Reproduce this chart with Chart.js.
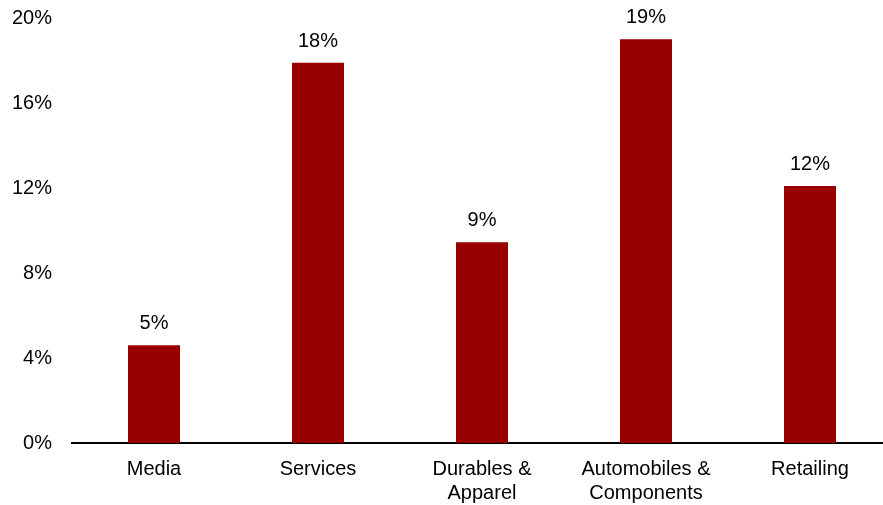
<!DOCTYPE html>
<html>
<head>
<meta charset="utf-8">
<script src="https://cdn.jsdelivr.net/npm/chart.js@4/dist/chart.umd.min.js"></script>
<style>
  html, body { margin: 0; padding: 0; background: #fff; overflow: hidden; }
  #wrap { width: 883px; height: 505px; overflow: hidden; position: relative; }
  #box { width: 892px; height: 505px; position: absolute; left: 0; top: 0; }
</style>
</head>
<body>
<div id="wrap"><div id="box"><canvas id="c"></canvas></div></div>
<script>
const categories = [["Media"], ["Services"], ["Durables &", "Apparel"], ["Automobiles &", "Components"], ["Retailing"]];
const values = [4.6, 17.9, 9.45, 19.0, 12.1];
const yTicks = [0, 4, 8, 12, 16, 20];

const FONT = "'Liberation Sans', Arial, sans-serif";

const labelPlugin = {
  id: 'barLabels',
  afterDatasetsDraw(chart) {
    const ctx = chart.ctx;
    const meta = chart.getDatasetMeta(0);
    ctx.save();
    ctx.font = "20px " + FONT;
    ctx.fillStyle = "#000";
    ctx.textAlign = "center";
    ctx.textBaseline = "alphabetic";
    meta.data.forEach((bar, i) => {
      ctx.fillText(Math.round(values[i]) + "%", bar.x, bar.y - 16);
    });
    ctx.restore();
  }
};

new Chart(document.getElementById('c'), {
  type: 'bar',
  data: {
    labels: categories,
    datasets: [{
      data: values,
      backgroundColor: '#990000',
      borderWidth: 0,
      categoryPercentage: 1,
      barPercentage: 0.317
    }]
  },
  options: {
    responsive: true,
    maintainAspectRatio: false,
    animation: false,
    layout: { padding: { top: 18, right: 0, bottom: 0, left: 0 } },
    plugins: { legend: { display: false }, tooltip: { enabled: false } },
    scales: {
      x: {
        grid: { display: false, drawTicks: false },
        border: { display: true, color: '#000', width: 2 },
        ticks: { color: '#000', font: { family: FONT, size: 20, lineHeight: 1.2 }, padding: 14, maxRotation: 0, autoSkip: false },
        afterFit(scale) { scale.height = 62; scale.paddingLeft = 0; scale.paddingRight = 0; }
      },
      y: {
        min: 0, max: 20,
        afterBuildTicks(scale) { scale.ticks = yTicks.map(v => ({ value: v })); },
        grid: { display: false, drawTicks: false },
        border: { display: false },
        ticks: { color: '#000', font: { family: FONT, size: 20 }, padding: 20, callback: v => v + '%' },
        afterFit(scale) { scale.width = 72; scale.paddingTop = 0; scale.paddingBottom = 0; }
      }
    }
  },
  plugins: [labelPlugin]
});
</script>
</body>
</html>
